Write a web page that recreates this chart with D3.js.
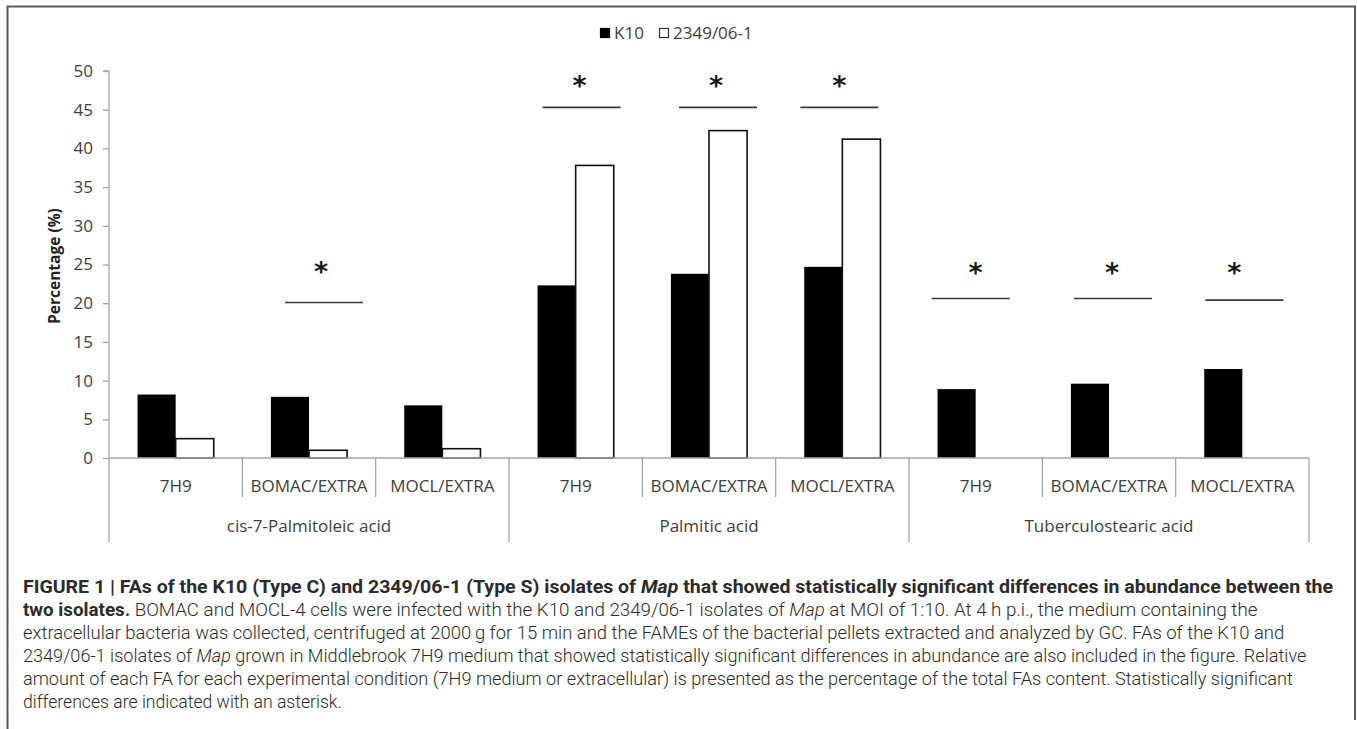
<!DOCTYPE html>
<html>
<head>
<meta charset="utf-8">
<script src="https://cdn.jsdelivr.net/npm/d3@7"></script>
<style>
  body { margin: 0; background: #fff; }
  svg { display: block; }
</style>
</head>
<body>
<div id="chart"></div>
<script>
// data
const groups = ["cis-7-Palmitoleic acid", "Palmitic acid", "Tuberculostearic acid"]
const conditions = ["7H9", "BOMAC/EXTRA", "MOCL/EXTRA"]
const seriesNames = ["K10", "2349/06-1"]
const k10 = [8.2, 7.9, 6.8, 22.3, 23.8, 24.7, 8.9, 9.6, 11.5]
const s2349 = [2.5, 1.0, 1.2, 37.8, 42.3, 41.2, 0, 0, 0]
const yTicks = [0, 5, 10, 15, 20, 25, 30, 35, 40, 45, 50]
// significance marks: category index, level of the bar line, level of the asterisk
const sigCat = [1, 3, 4, 5, 6, 7, 8]
const sigLine = [20.1, 45.3, 45.3, 45.3, 20.6, 20.6, 20.4]
const sigStar = [24.6, 48.6, 48.6, 48.6, 24.4, 24.4, 24.4]

const W = 1357, H = 729
const margin = {left: 109, right: 48, top: 71, bottom: 270}
const txt = "#404040", axisCol = "#a6a6a6"
const font = "'Open Sans', sans-serif"
const fs = "17px"

const svg = d3.select("#chart").append("svg")
  .attr("width", W).attr("height", H)

// frame round the figure
svg.append("path")
  .attr("d", "M7.5,729 L7.5,6.5 L1355,6.5 L1355,720")
  .attr("fill", "none").attr("stroke", "#5a5a5a").attr("stroke-width", 2)

const cats = d3.range(9)
const x = d3.scaleBand().domain(cats).range([margin.left, W - margin.right]).padding(0)
const xs = d3.scaleBand().domain(seriesNames).range([0, x.bandwidth()])
  .paddingInner(0).paddingOuter(0.75)
const y = d3.scaleLinear().domain([0, 50]).range([H - margin.bottom - 1, margin.top])

// y axis
const yAxis = svg.append("g")
  .attr("transform", "translate(" + margin.left + ",0)")
  .call(d3.axisLeft(y).tickValues(yTicks).tickSize(6).tickPadding(10))
yAxis.select(".domain").attr("stroke", axisCol).attr("stroke-width", 1.3)
  .attr("d", "M-6," + y(50) + "H0V" + y(0))
yAxis.selectAll(".tick line").attr("stroke", axisCol).attr("stroke-width", 1.3)
yAxis.selectAll(".tick text").attr("fill", txt)
  .style("font-family", font).style("font-size", fs)

svg.append("text")
  .attr("transform", "translate(60,266) rotate(-90)")
  .attr("text-anchor", "middle")
  .style("font-family", font).style("font-weight", "bold").style("font-size", "15.5px")
  .attr("fill", "#222")
  .text("Percentage (%)")

// bars
const rows = cats.map(i => ({i: i, vals: [k10[i], s2349[i]]}))
const cg = svg.append("g").selectAll("g").data(rows).join("g")
  .attr("transform", d => "translate(" + x(d.i) + ",0)")
cg.selectAll("rect")
  .data(d => d.vals.map((v, j) => ({s: seriesNames[j], v: v})).filter(e => e.v > 0))
  .join("rect")
  .attr("x", e => xs(e.s))
  .attr("width", xs.bandwidth())
  .attr("y", e => y(e.v))
  .attr("height", e => y(0) - y(e.v))
  .attr("fill", e => e.s === "K10" ? "#000" : "#fff")
  .attr("stroke", e => e.s === "K10" ? "none" : "#111")
  .attr("stroke-width", 1.6)

// x axis with two label levels
const x0 = margin.left, x1 = W - margin.right
svg.append("line").attr("x1", x0).attr("x2", x1).attr("y1", y(0)).attr("y2", y(0))
  .attr("stroke", axisCol).attr("stroke-width", 1.3)
const bounds = d3.range(10)
svg.append("g").selectAll("line").data(bounds).join("line")
  .attr("x1", i => x0 + i * x.bandwidth()).attr("x2", i => x0 + i * x.bandwidth())
  .attr("y1", y(0))
  .attr("y2", i => i % 3 === 0 ? 542 : 497)
  .attr("stroke", axisCol).attr("stroke-width", 1.3)

svg.append("g").selectAll("text").data(cats).join("text")
  .attr("x", i => x(i) + x.bandwidth() / 2)
  .attr("y", 492)
  .attr("text-anchor", "middle")
  .attr("fill", txt)
  .style("font-family", font).style("font-size", fs)
  .text(i => conditions[i % 3])

svg.append("g").selectAll("text").data(groups).join("text")
  .attr("x", (g, k) => x(k * 3) + x.bandwidth() * 1.5)
  .attr("y", 532)
  .attr("text-anchor", "middle")
  .attr("fill", txt)
  .style("font-family", font).style("font-size", fs)
  .text(g => g)

// significance lines + asterisks (small hand placed nudges, px)
const nudgeLine = [15, 6, 9, -3, -5, 4, 2]
const nudgeStar = [12, 4, 7, -3, 0, 3, -8]
const sig = svg.append("g")
sigCat.forEach((c, k) => {
  const cx = x(c) + x.bandwidth() / 2
  sig.append("line")
    .attr("x1", cx + nudgeLine[k] - 39).attr("x2", cx + nudgeLine[k] + 39)
    .attr("y1", y(sigLine[k])).attr("y2", y(sigLine[k]))
    .attr("stroke", "#3a3a3a").attr("stroke-width", 1.6)
  sig.append("text")
    .attr("x", cx + nudgeStar[k])
    .attr("y", y(sigStar[k]) + 13)
    .attr("text-anchor", "middle")
    .attr("fill", "#1a1a1a")
    .style("font-family", "'DejaVu Sans', sans-serif").style("font-weight", "bold").style("font-size", "27px")
    .text("*")
})

// legend
const leg = svg.append("g").attr("transform", "translate(600,28)")
const legX = [0, 59]
seriesNames.forEach((s, k) => {
  leg.append("rect").attr("x", legX[k] + 0.5).attr("y", 0.5).attr("width", 9).attr("height", 9)
    .attr("fill", k === 0 ? "#000" : "#fff").attr("stroke", k === 0 ? "#000" : "#333").attr("stroke-width", 1.2)
  leg.append("text").attr("x", legX[k] + 14).attr("y", 11)
    .attr("fill", txt)
    .style("font-family", font).style("font-size", fs)
    .text(s)
})

// caption
const caption = [
  [["b", "FIGURE 1 | FAs of the K10 (Type C) and 2349/06-1 (Type S) isolates of "], ["bi", "Map"], ["b", " that showed statistically significant differences in abundance between the"]],
  [["b", "two isolates."], ["", " BOMAC and MOCL-4 cells were infected with the K10 and 2349/06-1 isolates of "], ["i", "Map"], ["", " at MOI of 1:10. At 4 h p.i., the medium containing the"]],
  [["", "extracellular bacteria was collected, centrifuged at 2000\u2009g for 15 min and the FAMEs of the bacterial pellets extracted and analyzed by GC. FAs of the K10 and"]],
  [["", "2349/06-1 isolates of "], ["i", "Map"], ["", " grown in Middlebrook 7H9 medium that showed statistically significant differences in abundance are also included in the figure. Relative"]],
  [["", "amount of each FA for each experimental condition (7H9 medium or extracellular) is presented as the percentage of the total FAs content. Statistically significant"]],
  [["", "differences are indicated with an asterisk."]]
]
const lineEnds = [1334, 1259, 1285, 1307, 1294, 342]
caption.forEach((parts, k) => {
  const t = svg.append("text")
    .attr("x", 0).attr("y", 0)
    .attr("fill", "#2b2b2b")
    .style("font-family", "Roboto, 'Liberation Sans', sans-serif").style("font-size", "17.5px")
  parts.forEach(p => {
    t.append("tspan")
      .style("font-weight", p[0].includes("b") ? "bold" : "300")
      .style("font-style", p[0].includes("i") ? "italic" : "normal")
      .text(p[1])
  })
  const w = t.node().getComputedTextLength()
  const sx = (lineEnds[k] - 23) / w
  t.attr("transform", "translate(23," + (593 + k * 23) + ") scale(" + sx + ",1)")
})
</script>
</body>
</html>
